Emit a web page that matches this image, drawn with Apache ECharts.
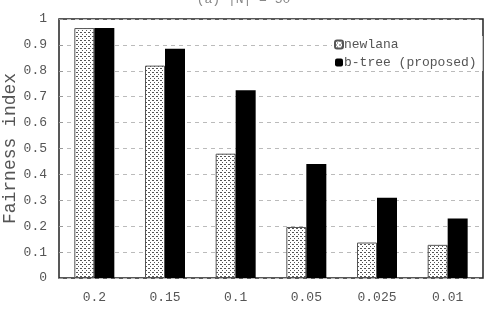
<!DOCTYPE html>
<html>
<head>
<meta charset="utf-8">
<script src="https://cdn.jsdelivr.net/npm/echarts@6/dist/echarts.min.js"></script>
<style>
  html, body { margin: 0; padding: 0; background: #fff; }
  #chart { width: 487px; height: 316px; }
</style>
</head>
<body>
<div id="chart"></div>
<script>
const categories = ['0.2', '0.15', '0.1', '0.05', '0.025', '0.01']
const newlana = [0.965, 0.82, 0.48, 0.197, 0.137, 0.128]
const btree = [0.965, 0.885, 0.725, 0.44, 0.31, 0.23]
const seriesNames = ['newlana', 'b-tree (proposed)']

// dotted fill for the newlana bars
function dotPattern() {
  const c = document.createElement('canvas')
  c.width = 4
  c.height = 4
  const ctx = c.getContext('2d')
  ctx.fillStyle = '#fff'
  ctx.fillRect(0, 0, 4, 4)
  ctx.fillStyle = '#555'
  ctx.fillRect(0, 0, 2, 1)
  ctx.fillRect(2, 2, 1, 1)
  return c
}

const mono = 'Liberation Mono'
let myChart = echarts.init(document.getElementById('chart'))

myChart.setOption({
  animation: false,
  backgroundColor: '#fff',
  title: {
    text: '(a) |N| = 50',
    left: 'center',
    top: -12,
    textStyle: { fontFamily: mono, fontSize: 13, fontWeight: 'normal', color: '#888' }
  },
  grid: {
    left: 59, right: 4, top: 19, bottom: 38,
    outerBoundsMode: 'none',
    show: true, borderColor: '#222', borderWidth: 1.5
  },
  legend: {
    orient: 'vertical',
    left: 332,
    top: 36,
    itemWidth: 8,
    itemHeight: 8,
    itemGap: 5,
    backgroundColor: '#fff',
    padding: [2, 6, 2, 2],
    textStyle: { fontFamily: mono, fontSize: 13, color: '#555', padding: [0, 0, 0, -4] },
    data: seriesNames
  },
  xAxis: {
    type: 'category',
    data: categories,
    axisLine: { show: false },
    axisTick: { show: false },
    axisLabel: { fontFamily: mono, fontSize: 13, color: '#555', margin: 13 }
  },
  yAxis: {
    type: 'value',
    min: 0,
    max: 1,
    interval: 0.1,
    name: 'Fairness index',
    nameLocation: 'middle',
    nameGap: 40,
    nameMoveOverlap: false,
    nameTextStyle: { fontFamily: mono, fontSize: 18, color: '#555' },
    axisLine: { show: false },
    axisTick: { show: true, length: 4, inside: true, lineStyle: { color: '#999' } },
    axisLabel: {
      fontFamily: mono, fontSize: 13, color: '#555', margin: 12,
      formatter: v => (Math.round(v * 10) / 10).toString()
    },
    splitLine: { lineStyle: { color: '#bbb', type: [4, 4], width: 1 } }
  },
  series: [
    {
      name: seriesNames[0],
      type: 'bar',
      data: newlana,
      barWidth: 20,
      barGap: '0%',
      itemStyle: {
        color: { image: dotPattern(), repeat: 'repeat' },
        borderColor: '#555',
        borderWidth: 1
      }
    },
    {
      name: seriesNames[1],
      type: 'bar',
      data: btree,
      barWidth: 20,
      itemStyle: { color: '#000' }
    }
  ]
})
</script>
</body>
</html>
